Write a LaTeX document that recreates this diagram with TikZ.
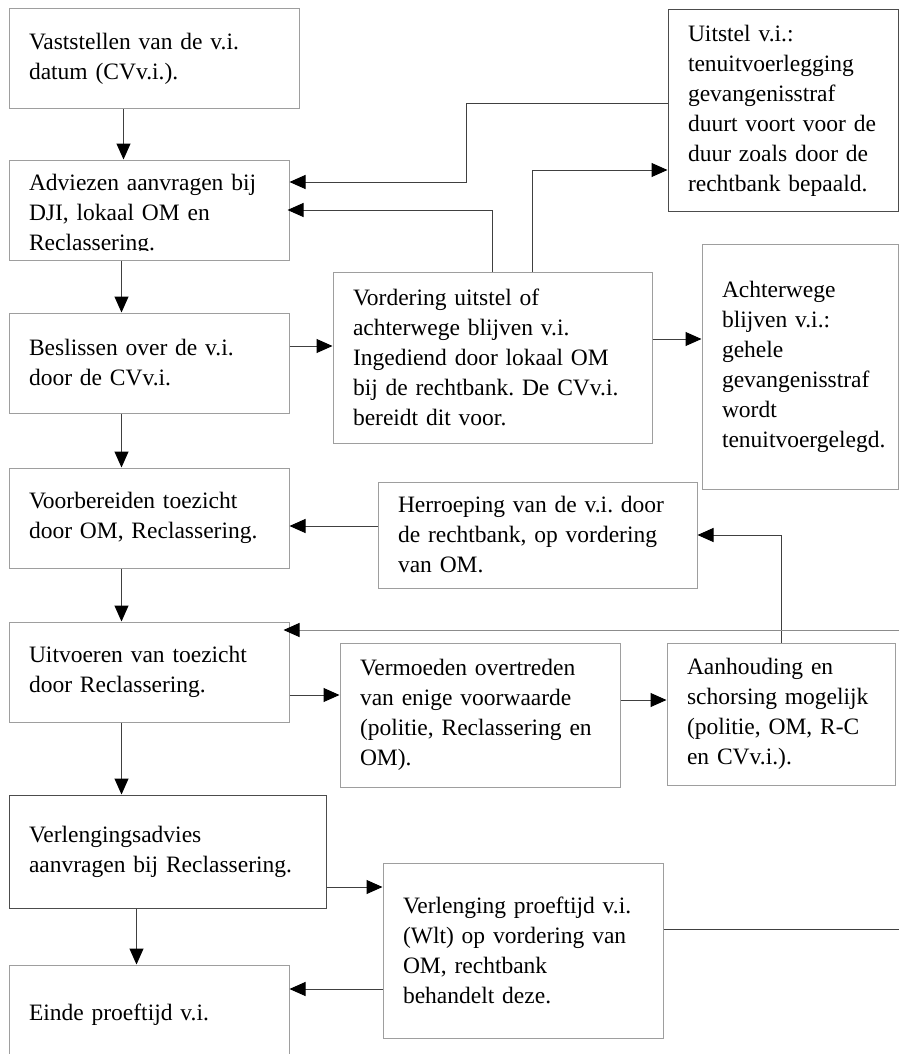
\documentclass[tikz,border=0pt]{standalone}
\usepackage{fontspec}
\setmainfont{Liberation Serif}
\usetikzlibrary{arrows.meta}
\frenchspacing

\begin{document}
\begin{tikzpicture}[
        x=1pt, y=-1pt,
        stap/.style={draw=black!38, line width=1pt, inner xsep=20pt, inner ysep=0pt,
            align=left, font=\fontsize{23.5}{30}\selectfont},
        donker/.style={draw=black!70},
        pijl/.style={-{Triangle[length=16pt,width=14pt,color=black,fill=black]}, draw=black!75, line width=1pt},
        lijn/.style={draw=black!75, line width=1pt}
    ]
        \useasboundingbox (0,0) rectangle (899,1054);
        % linker kolom
        \node[stap, text width=250pt, minimum height=100pt] (vast) at (154,59)
            {Vaststellen van de v.i.\\datum (CVv.i.).};
        \node[stap, text width=240pt, minimum height=100pt] (advies) at (149,210) {};
        \begin{scope}
            \clip (advies.north west) rectangle ([yshift=10pt]advies.south east);
            \node[stap, draw=none, text width=240pt] (adviestekst) at (149,215)
                {Adviezen aanvragen bij\\DJI, lokaal OM en\\Reclassering.};
        \end{scope}
        \node[stap, text width=240pt, minimum height=100pt] (beslis) at (149,363)
            {Beslissen over de v.i.\\door de CVv.i.};
        \node[stap, text width=240pt, minimum height=100pt] (voorb) at (149,518)
            {Voorbereiden toezicht\\door OM, Reclassering.};
        \node[stap, text width=240pt, minimum height=100pt] (uitvoer) at (149,672)
            {Uitvoeren van toezicht\\door Reclassering.};
        \node[stap, donker, text width=277pt, minimum height=113pt] (verladv) at (167.5,851.5)
            {Verlengingsadvies\\aanvragen bij Reclassering.};
        \node[stap, text width=240pt, minimum height=100pt] (einde) at (149,1015)
            {Einde proeftijd v.i.};
        % rechts
        \node[stap, donker, text width=190pt, minimum height=201pt] (uitstel) at (783,110.5)
            {Uitstel v.i.:\\tenuitvoerlegging\\gevangenisstraf\\\mbox{duurt voort voor de}\\duur zoals door de\\rechtbank bepaald.};
        \node[stap, text width=279pt, minimum height=171pt] (vord) at (492.5,357.5)
            {Vordering uitstel of\\achterwege blijven v.i.\\Ingediend door lokaal OM\\bij de rechtbank. De CVv.i.\\bereidt dit voor.};
        \node[stap, text width=156pt, minimum height=245pt] (achter) at (800,366.5)
            {Achterwege\\blijven v.i.:\\gehele\\gevangenisstraf\\wordt\\\mbox{tenuitvoergelegd.}};
        \node[stap, text width=279pt, minimum height=106pt] (herroep) at (537.5,535)
            {Herroeping van de v.i. door\\de rechtbank, op vordering\\van OM.};
        \node[stap, text width=240pt, minimum height=144pt] (vermoed) at (480,715)
            {Vermoeden overtreden\\van enige voorwaarde\\(politie, Reclassering en\\OM).};
        \node[stap, text width=188pt, minimum height=142pt] (aanh) at (781,714)
            {Aanhouding en\\schorsing mogelijk\\(politie, OM, R-C\\en CVv.i.).};
        \node[stap, text width=240pt, minimum height=175pt] (verleng) at (523,950.5)
            {Verlenging proeftijd v.i.\\(Wlt) op vordering van\\OM, rechtbank\\behandelt deze.};
        \coordinate (rand1) at (899,630);
        \coordinate (rand2) at (899,929);

        % hoofdlijn
        \draw[pijl] ([xshift=115pt]vast.south west) -- ([xshift=115pt]advies.north west);
        \draw[pijl] ([xshift=113pt]advies.south west) -- ([xshift=113pt]beslis.north west);
        \draw[pijl] ([xshift=113pt]beslis.south west) -- ([xshift=113pt]voorb.north west);
        \draw[pijl] ([xshift=113pt]voorb.south west) -- ([xshift=113pt]uitvoer.north west);
        \draw[pijl] ([xshift=113pt]uitvoer.south west) -- ([xshift=113pt]uitvoer.south west |- verladv.north);
        \draw[pijl] ([xshift=128pt]verladv.south west) -- ([xshift=128pt]verladv.south west |- einde.north);

        % zijtakken
        \draw[pijl] ([yshift=6.5pt]uitstel.west) -| (466,182) -- ([yshift=28pt]advies.east);
        \draw[pijl] ([xshift=39.5pt]vord.north) |- ([yshift=-59.5pt]uitstel.west);
        \draw[pijl] (vord.north) |- ([xshift=-2pt]advies.east);
        \draw[pijl] ([yshift=17pt]beslis.east) -- ([yshift=17pt]beslis.east -| vord.west);
        \draw[pijl] ([yshift=18.5pt]vord.east) -- ([yshift=18.5pt]vord.east -| achter.west);
        \draw[pijl] ([yshift=9pt]herroep.west) -- ([yshift=9pt]herroep.west -| voorb.east);
        \draw[pijl] (aanh.north) |- (herroep.east);
        \draw[pijl, draw=black!45] (rand1) -- ([xshift=-6pt,yshift=42pt]uitvoer.east);
        \draw[pijl] ([yshift=-23pt]uitvoer.east) -- ([yshift=-23pt]uitvoer.east -| vermoed.west);
        \draw[pijl] ([yshift=15pt]vermoed.east) -- ([yshift=15pt]vermoed.east -| aanh.west);
        \draw[pijl] ([yshift=-35.5pt]verladv.east) -- ([yshift=-35.5pt]verladv.east -| verleng.west);
        \draw[pijl] ([yshift=-38.5pt]verleng.west) -- ([yshift=-38.5pt]verleng.west -| einde.east);
        \draw[lijn] ([yshift=21.5pt]verleng.east) -- (rand2);
    \end{tikzpicture}
\end{document}
